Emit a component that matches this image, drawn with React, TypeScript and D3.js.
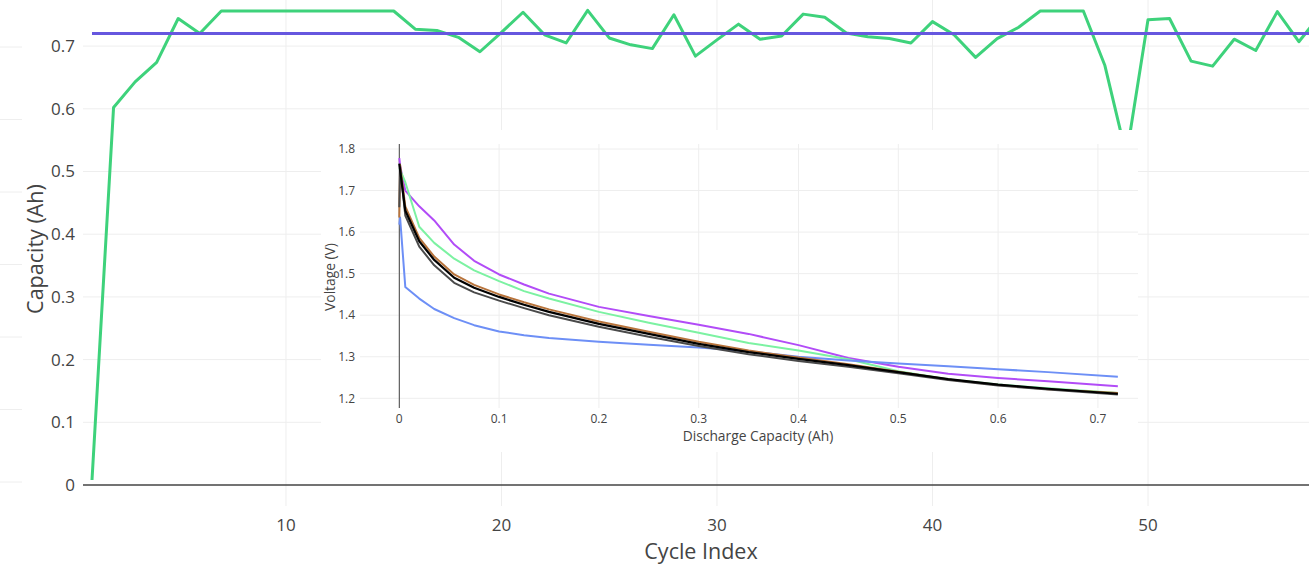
import React from "react";
import * as d3 from "d3";

// ---------- Main chart data ----------
const cycleIndex: number[] = Array.from({ length: 58 }, (_, i) => i + 1);
const capacity: number[] = [
  0.008, 0.602, 0.643, 0.674, 0.744, 0.72, 0.756, 0.756, 0.756, 0.756,
  0.756, 0.756, 0.756, 0.756, 0.756, 0.727, 0.725, 0.714, 0.691, 0.722,
  0.754, 0.718, 0.705, 0.757, 0.713, 0.702, 0.696, 0.75, 0.684, 0.71,
  0.735, 0.711, 0.716, 0.751, 0.746, 0.721, 0.715, 0.712, 0.705, 0.739,
  0.718, 0.682, 0.712, 0.73, 0.756, 0.756, 0.756, 0.669, 0.525, 0.742,
  0.744, 0.676, 0.668, 0.711, 0.693, 0.755, 0.707, 0.75,
];
const referenceCapacity = 0.72;
const mainXTicks = [10, 20, 30, 40, 50];
const mainYTicks = [0, 0.1, 0.2, 0.3, 0.4, 0.5, 0.6, 0.7];

// faint gridlines of a neighbouring panel visible at the left edge
const ghostTicks = [0, 1, 2, 3, 4, 5, 6];

// ---------- Inset data ----------
const dischargeCap: number[] = [
  0, 0.0008, 0.006, 0.02, 0.035, 0.055, 0.075, 0.1, 0.125, 0.15, 0.2, 0.25,
  0.3, 0.35, 0.4, 0.45, 0.5, 0.55, 0.6, 0.65, 0.72,
];
const purpleV = [1.778, 1.76, 1.70, 1.662, 1.628, 1.570, 1.531, 1.498, 1.474, 1.452, 1.42, 1.398, 1.377, 1.355, 1.328, 1.297, 1.276, 1.259, 1.249, 1.241, 1.229];
const greenV = [1.754, 1.75, 1.72, 1.613, 1.574, 1.536, 1.508, 1.482, 1.458, 1.44, 1.408, 1.382, 1.358, 1.333, 1.315, 1.294, 1.265, 1.246, 1.233, 1.224, 1.213];
const blueV = [1.618, 1.635, 1.468, 1.44, 1.415, 1.393, 1.376, 1.361, 1.352, 1.345, 1.336, 1.329, 1.322, 1.313, 1.30, 1.291, 1.284, 1.277, 1.27, 1.263, 1.252];
const brownV = [1.635, 1.762, 1.662, 1.586, 1.541, 1.498, 1.473, 1.45, 1.431, 1.414, 1.385, 1.36, 1.336, 1.315, 1.298, 1.282, 1.264, 1.245, 1.232, 1.222, 1.213];
const grayV = [1.66, 1.756, 1.64, 1.565, 1.52, 1.478, 1.455, 1.435, 1.417, 1.40, 1.372, 1.348, 1.326, 1.306, 1.29, 1.276, 1.26, 1.244, 1.231, 1.221, 1.209];
const blackV = [1.765, 1.75, 1.652, 1.578, 1.533, 1.49, 1.466, 1.444, 1.425, 1.408, 1.379, 1.355, 1.331, 1.311, 1.295, 1.28, 1.263, 1.246, 1.233, 1.223, 1.211];

const insetSeries = [
  { name: "purple", v: purpleV, color: "#b24cf7", width: 2 },
  { name: "green", v: greenV, color: "#7cf2a2", width: 2 },
  { name: "blue", v: blueV, color: "#6d8ff6", width: 2 },
  { name: "brown", v: brownV, color: "#b8743c", width: 2 },
  { name: "gray", v: grayV, color: "#4a4a4a", width: 2 },
  { name: "black", v: blackV, color: "#000000", width: 2.2 },
];
const insetXTicks = [0, 0.1, 0.2, 0.3, 0.4, 0.5, 0.6, 0.7];
const insetYTicks = [1.2, 1.3, 1.4, 1.5, 1.6, 1.7, 1.8];

const FONT = "'Open Sans', Verdana, Arial, sans-serif";
const TXT = "#444";
const GRID = "#eeeeee";

export default function App() {
  const W = 1309;
  const H = 565;

  // main plot area
  const plotLeft = 83;
  const plotRight = W;
  const plotTop = 0;
  const plotBottom = 506;

  const x = d3.scaleLinear().domain([1, 50]).range([92, 1148]);
  const y = d3.scaleLinear().domain([0, 0.7]).range([485, 46.1]);

  const mainLine = d3
    .line<number>()
    .x((_, i) => x(cycleIndex[i]))
    .y((d) => y(d));

  const ghostY = d3.scaleLinear().domain([0, 6]).range([482, 47]);

  // inset
  const box = { x0: 321, y0: 130, x1: 1138, y1: 452 };
  const iLeft = 360;
  const iRight = 1138;
  const iTop = 144;
  const iBottom = 408;
  const ix = d3.scaleLinear().domain([0, 0.7]).range([399.3, 1097.9]);
  const iy = d3.scaleLinear().domain([1.2, 1.8]).range([398.3, 149]);
  const insetLine = (vals: number[]) =>
    d3
      .line<number>()
      .x((_, i) => ix(dischargeCap[i]))
      .y((d) => iy(d))(vals) || "";

  return (
    <svg
      width={W}
      height={H}
      style={{ position: "absolute", left: 0, top: 0, background: "#fff" }}
      fontFamily={FONT}
    >
      <defs>
        <clipPath id="mainClip">
          <rect x={plotLeft} y={plotTop} width={plotRight - plotLeft} height={plotBottom - plotTop} />
        </clipPath>
        <clipPath id="insetClip">
          <rect x={iLeft} y={iTop} width={iRight - iLeft} height={iBottom - iTop} />
        </clipPath>
      </defs>

      {/* neighbouring panel gridlines */}
      {ghostTicks.map((t) => (
        <line key={"g" + t} x1={0} x2={22} y1={ghostY(t)} y2={ghostY(t)} stroke={GRID} strokeWidth={1} />
      ))}

      {/* main gridlines */}
      {mainXTicks.map((t) => (
        <line key={"mx" + t} x1={x(t)} x2={x(t)} y1={plotTop} y2={plotBottom} stroke={GRID} strokeWidth={1} />
      ))}
      {mainYTicks.filter((t) => t !== 0).map((t) => (
        <line key={"my" + t} x1={plotLeft} x2={plotRight} y1={y(t)} y2={y(t)} stroke={GRID} strokeWidth={1} />
      ))}
      {/* zero line */}
      <line x1={plotLeft} x2={plotRight} y1={y(0)} y2={y(0)} stroke="#444" strokeWidth={1.5} />

      {/* main series */}
      <g clipPath="url(#mainClip)">
        <path d={mainLine(capacity) || ""} fill="none" stroke="#3ed27b" strokeWidth={3} strokeLinejoin="round" />
        <line
          x1={x(1)}
          x2={x(cycleIndex[cycleIndex.length - 1])}
          y1={y(referenceCapacity)}
          y2={y(referenceCapacity)}
          stroke="#6657df"
          strokeWidth={3}
        />
      </g>

      {/* main tick labels */}
      {mainYTicks.map((t) => (
        <text key={"ly" + t} x={75} y={y(t)} dy="0.35em" textAnchor="end" fontSize={17} fill={TXT}>
          {t === 0 ? "0" : t.toFixed(1)}
        </text>
      ))}
      {mainXTicks.map((t) => (
        <text key={"lx" + t} x={x(t)} y={525} dy="0.35em" textAnchor="middle" fontSize={17} fill={TXT}>
          {t}
        </text>
      ))}
      <text x={701} y={551} dy="0.35em" textAnchor="middle" fontSize={21.5} fill={TXT}>
        Cycle Index
      </text>
      <text
        transform={`translate(35, 249) rotate(-90)`}
        dy="0.35em"
        textAnchor="middle"
        fontSize={21.5}
        fill={TXT}
      >
        Capacity (Ah)
      </text>

      {/* inset */}
      <rect x={box.x0} y={box.y0} width={box.x1 - box.x0} height={box.y1 - box.y0} fill="#fff" />
      {insetXTicks.map((t) => (
        <line key={"ix" + t} x1={ix(t)} x2={ix(t)} y1={iTop} y2={iBottom} stroke={GRID} strokeWidth={1} />
      ))}
      {insetYTicks.map((t) => (
        <line key={"iy" + t} x1={iLeft} x2={iRight} y1={iy(t)} y2={iy(t)} stroke={GRID} strokeWidth={1} />
      ))}
      <line x1={ix(0)} x2={ix(0)} y1={iTop} y2={iBottom} stroke="#444" strokeWidth={1} />
      <g clipPath="url(#insetClip)">
        {insetSeries.map((s) => (
          <path
            key={s.name}
            d={insetLine(s.v)}
            fill="none"
            stroke={s.color}
            strokeWidth={s.width}
            strokeLinejoin="round"
          />
        ))}
      </g>
      {insetYTicks.map((t) => (
        <text key={"ily" + t} x={355} y={iy(t)} dy="0.35em" textAnchor="end" fontSize={12} fill={TXT}>
          {t.toFixed(1)}
        </text>
      ))}
      {insetXTicks.map((t) => (
        <text key={"ilx" + t} x={ix(t)} y={419} dy="0.35em" textAnchor="middle" fontSize={12} fill={TXT}>
          {t === 0 ? "0" : t.toFixed(1)}
        </text>
      ))}
      <text x={758} y={436} dy="0.35em" textAnchor="middle" fontSize={13.8} fill={TXT}>
        Discharge Capacity (Ah)
      </text>
      <text
        transform={`translate(330, 277) rotate(-90)`}
        dy="0.35em"
        textAnchor="middle"
        fontSize={13.8}
        fill={TXT}
      >
        Voltage (V)
      </text>
    </svg>
  );
}
